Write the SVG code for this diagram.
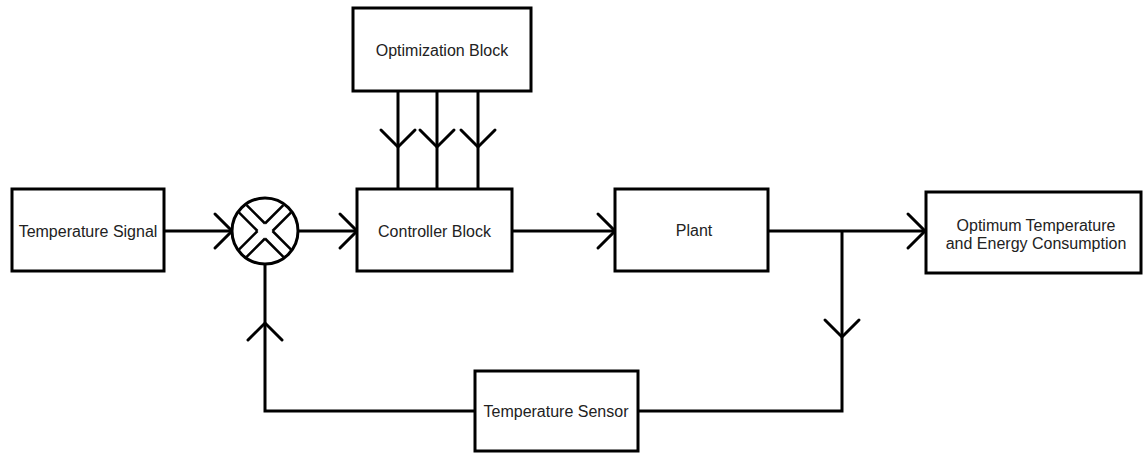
<svg xmlns="http://www.w3.org/2000/svg" width="1143" height="453" viewBox="0 0 1143 453">
<style>
.box{fill:#fff;stroke:#000;stroke-width:3}
.lbl{font-family:"Liberation Sans",Arial,sans-serif;font-size:16px;fill:#222;text-anchor:middle}
.wire{fill:none;stroke:#000;stroke-width:3}
.chev{fill:none;stroke:#000;stroke-width:3;stroke-linecap:round;stroke-linejoin:miter}
</style>
<defs>
<polyline id="chev" class="chev" points="-17,-17 0,0 -17,17"/>
<clipPath id="sumclip"><circle cx="265" cy="231" r="32"/></clipPath>
</defs>
<rect width="1143" height="453" fill="#fff"/>
<g id="connectors">
<path class="wire" d="M164,231 H232"/>
<path class="wire" d="M298,231 H357"/>
<path class="wire" d="M512,231 H615"/>
<path class="wire" d="M768,231 H925"/>
<path class="wire" d="M842,231 V411 H638"/>
<path class="wire" d="M475,411 H265 V264"/>
<path class="wire" d="M398,91 V189"/>
<path class="wire" d="M437,91 V189"/>
<path class="wire" d="M478,91 V189"/>
<use href="#chev" transform="translate(232,231)"/>
<use href="#chev" transform="translate(357,231)"/>
<use href="#chev" transform="translate(615,231)"/>
<use href="#chev" transform="translate(925,231)"/>
<use href="#chev" transform="translate(842,337) rotate(90)"/>
<use href="#chev" transform="translate(265,323) rotate(-90)"/>
<use href="#chev" transform="translate(398,147) rotate(90)"/>
<use href="#chev" transform="translate(437,147) rotate(90)"/>
<use href="#chev" transform="translate(478,147) rotate(90)"/>
</g>
<g id="temperature-signal">
<rect class="box" x="12" y="189" width="152" height="82"/>
<text class="lbl" x="88" y="236.5">Temperature Signal</text>
</g>
<g id="summing-junction">
<circle cx="265" cy="231" r="33" fill="#fff" stroke="#000" stroke-width="3"/>
<g clip-path="url(#sumclip)" stroke="#000" stroke-width="2.5" fill="none">
<path d="M265,223.5 L225,183.5 M265,223.5 L305,183.5 M257.5,231 L217.5,191 M257.5,231 L217.5,271 M272.5,231 L312.5,191 M272.5,231 L312.5,271 M265,238.5 L225,278.5 M265,238.5 L305,278.5"/>
</g>
</g>
<g id="optimization-block">
<rect class="box" x="353" y="8" width="178" height="83"/>
<text class="lbl" x="442" y="55.5">Optimization Block</text>
</g>
<g id="controller-block">
<rect class="box" x="357" y="189" width="155" height="82"/>
<text class="lbl" x="434.5" y="236.5">Controller Block</text>
</g>
<g id="plant">
<rect class="box" x="615" y="189" width="153" height="82"/>
<text class="lbl" x="694" y="236">Plant</text>
</g>
<g id="output">
<rect class="box" x="926" y="192" width="215" height="81"/>
<text class="lbl" x="1036" y="230.5">Optimum Temperature</text>
<text class="lbl" x="1036" y="248.5">and Energy Consumption</text>
</g>
<g id="temperature-sensor">
<rect class="box" x="475" y="371" width="163" height="80"/>
<text class="lbl" x="556" y="417">Temperature Sensor</text>
</g>
</svg>
